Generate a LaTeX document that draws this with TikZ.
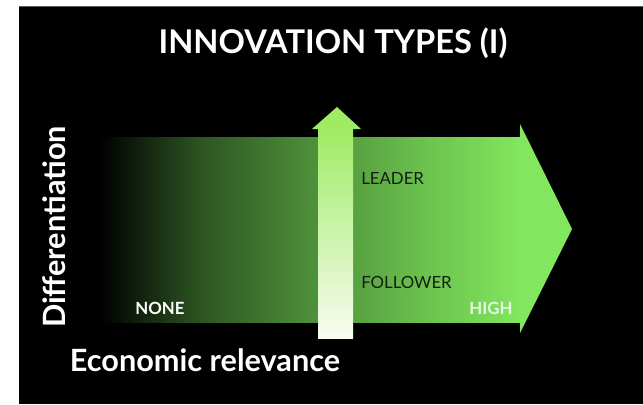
\documentclass[tikz,border=0pt]{standalone}
\usepackage{fontspec}
\setmainfont{Lato}
\usetikzlibrary{positioning}

\definecolor{gdark}{RGB}{45,85,35}
\definecolor{gmid}{RGB}{74,138,56}
\definecolor{glight}{RGB}{108,195,78}
\definecolor{ghigh}{RGB}{130,230,94}
\definecolor{vtop}{RGB}{160,235,100}
\definecolor{vmid}{RGB}{198,242,135}
\definecolor{vbottom}{RGB}{248,252,242}
\definecolor{labeldark}{RGB}{20,30,20}
\definecolor{highwhite}{RGB}{228,248,228}
\definecolor{slideedge}{RGB}{90,90,90}

\pgfdeclarehorizontalshading{bodyshade}{100bp}{color(0bp)=(black); color(25bp)=(black); color(37bp)=(gdark); color(49bp)=(gmid); color(64bp)=(glight); color(75bp)=(ghigh); color(100bp)=(ghigh)}

\tikzset{
  titlelabel/.style={text=white, inner sep=0pt, font=\bfseries\fontsize{24.5}{28}\selectfont},
  axislabel/.style={text=white, inner sep=0pt, font=\bfseries\fontsize{23}{26}\selectfont},
  scalelabel/.style={text=white, inner sep=0pt, font=\bfseries\fontsize{12.6}{15}\selectfont},
  zonelabel/.style={text=labeldark, inner sep=0pt, font=\fontsize{12.6}{15}\selectfont},
}

\begin{document}
\begin{tikzpicture}[x=0.75pt, y=-0.75pt]
  \useasboundingbox (0,0) rectangle (643,404);
  % Slide
  \fill[black] (19,7) rectangle (643,404);
  \draw[slideedge, line width=0.8pt] (19,6.5) -- (643,6.5);

  % Big arrow (economic relevance)
  \fill[shading=bodyshade] (100,137) rectangle (520,322);
  \fill[ghigh] (520,124) -- (572,229) -- (520,333) -- cycle;

  % Small arrow (differentiation)
  \shade[top color=vtop, middle color=vmid, bottom color=vbottom] (318,129) rectangle (353,338);
  \fill[vtop] (312,129) -- (337,107) -- (361,129) -- cycle;

  % Nodes
  \node[titlelabel] (title) at (333,43) {INNOVATION TYPES (I)};
  \node[axislabel, rotate=90] (diff) at (54,227) {Differentiation};
  \node[axislabel] (econ) at (205,360) {Economic relevance};
  \node[scalelabel] (none) at (160,308) {NONE};
  \node[scalelabel, text=highwhite] (high) at (491,308) {HIGH};
  \node[zonelabel, anchor=west] (leader) at (361,178) {LEADER};
  \node[zonelabel, below=78pt of leader.west, anchor=west] (follower) {FOLLOWER};
\end{tikzpicture}
\end{document}
